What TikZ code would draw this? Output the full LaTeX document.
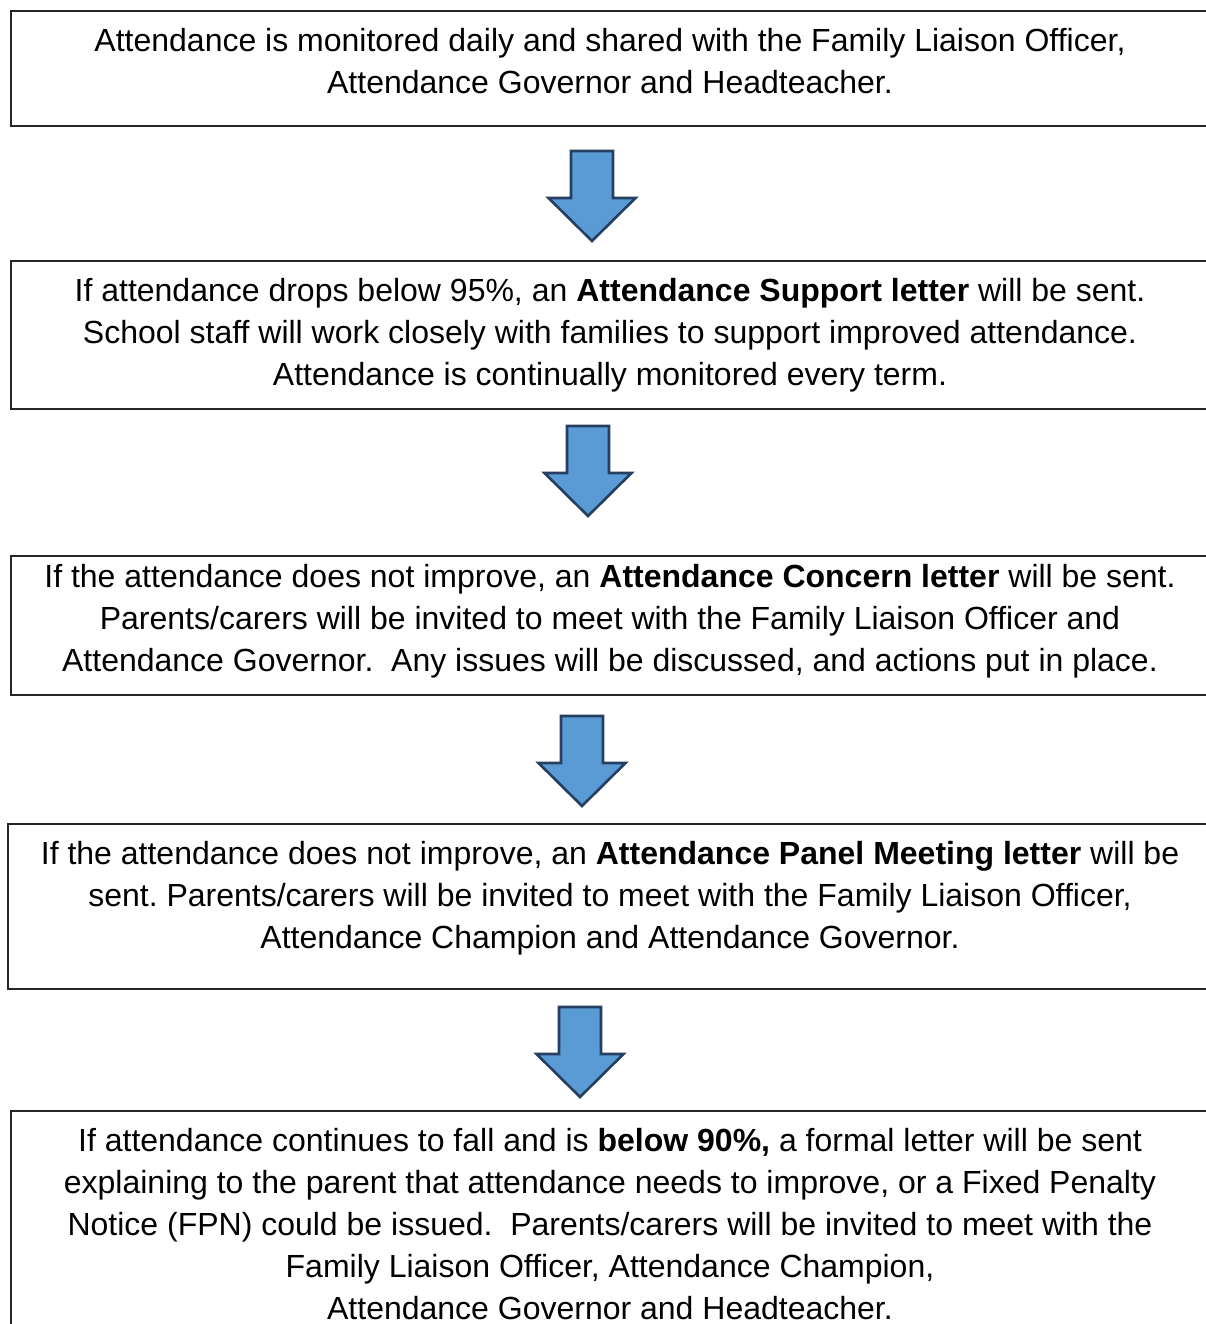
\documentclass[tikz,border=0pt]{standalone}
\usepackage{fontspec}
\setmainfont{Liberation Sans}
\usepackage{tikz}
\usetikzlibrary{positioning}
\frenchspacing

\definecolor{arrowfill}{HTML}{5B9BD5}
\definecolor{arrowline}{HTML}{243F60}

\tikzset{
    stagebox/.style={draw=black!85, line width=0.9pt, anchor=north west, minimum width=607.5pt, inner sep=0pt},
    stagetext/.style={anchor=north, align=center, inner sep=0pt, font=\fontsize{16}{21}\selectfont},
    downarrow/.pic={
        \draw[fill=arrowfill, draw=arrowline, line width=1.3pt, line join=miter]
            (-21,0) -- (21,0) -- (21,47) -- (43.5,47) -- (0,90) -- (-43.5,47) -- (-21,47) -- cycle;
    }
}

\begin{document}
\begin{tikzpicture}[x=0.5pt, y=-0.5pt]
    \useasboundingbox (0,0) rectangle (1206,1324);

    % boxes
    \node[stagebox, minimum height=57.5pt] (b1) at (10,10) {};
    \node[stagebox, minimum height=74pt] (b2) at (10,260) {};
    \node[stagebox, minimum height=69.5pt] (b3) at (10,555) {};
    \node[stagebox, minimum height=82.5pt] (b4) at (7,823) {};
    \node[stagebox, minimum height=120pt] (b5) at (10,1110) {};

    % texts
    \node[stagetext] (t1) at (610,28) {Attendance is monitored daily and shared with the Family Liaison Officer,\\
        Attendance Governor and Headteacher.};
    \node[stagetext] (t2) at (610,278) {If attendance drops below 95\%, an \textbf{Attendance Support letter} will be sent.\\
        School staff will work closely with families to support improved attendance.\\
        Attendance is continually monitored every term.};
    \node[stagetext] (t3) at (610,564) {If the attendance does not improve, an \textbf{Attendance Concern letter} will be sent.\\
        Parents/carers will be invited to meet with the Family Liaison Officer and\\
        Attendance Governor.\ \ Any issues will be discussed, and actions put in place.};
    \node[stagetext] (t4) at (610,841) {If the attendance does not improve, an \textbf{Attendance Panel Meeting letter} will be\\
        sent. Parents/carers will be invited to meet with the Family Liaison Officer,\\
        Attendance Champion and Attendance Governor.};
    \node[stagetext] (t5) at (610,1128) {If attendance continues to fall and is \textbf{below 90\%,} a formal letter will be sent\\
        explaining to the parent that attendance needs to improve, or a Fixed Penalty\\
        Notice (FPN) could be issued.\ \ Parents/carers will be invited to meet with the\\
        Family Liaison Officer, Attendance Champion,\\
        Attendance Governor and Headteacher.};

    % arrows
    \pic (a1) at (592,151) {downarrow};
    \pic (a2) at (588,426) {downarrow};
    \pic (a3) at (582,716) {downarrow};
    \pic (a4) at (580,1007) {downarrow};
\end{tikzpicture}
\end{document}
